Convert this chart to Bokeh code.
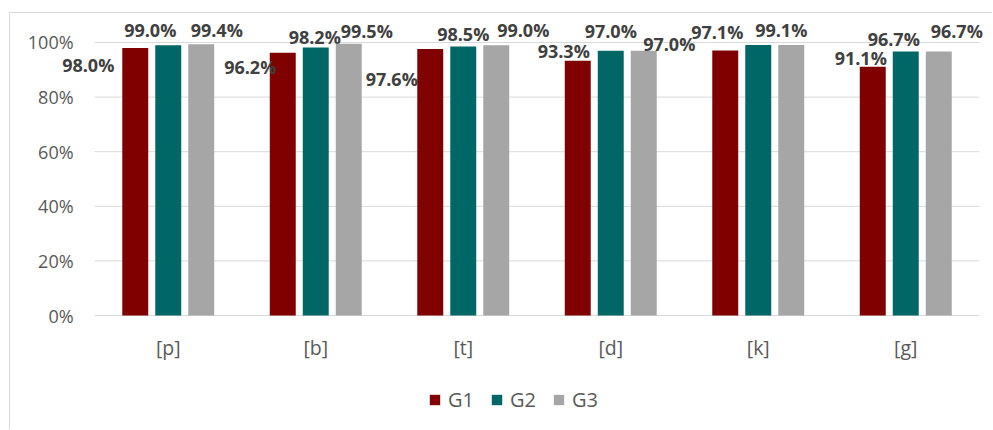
from bokeh.plotting import figure
from bokeh.models import ColumnDataSource, Range1d, Legend, LegendItem
from bokeh.core.properties import value
from bokeh.embed import file_html
from bokeh.resources import INLINE

# ---- data ----
categories = ["[p]", "[b]", "[t]", "[d]", "[k]", "[g]"]
series = ["G1", "G2", "G3"]
g1 = [98.0, 96.2, 97.6, 93.3, 97.1, 91.1]
g2 = [99.0, 98.2, 98.5, 97.0, 99.1, 96.7]
g3 = [99.4, 99.5, 99.0, 97.0, 99.1, 96.7]
y_ticks = [0, 20, 40, 60, 80, 100]
y_tick_labels = ["0%", "20%", "40%", "60%", "80%", "100%"]

# ---- style ----
colors = ["#800000", "#006666", "#A6A6A6"]
offsets = [-0.2237, 0.0, 0.2237]
bar_width = 0.176
# label offsets in screen px relative to bar top (dx right, dy down)
label_dx = [[-47, -32.5, -38.5, -14, -8, -12],
            [-18, -1, 0, 0, 23, -12],
            [15.5, 18, 27, 25.5, 23, 18]]
label_dy = [[17.5, 14.5, 30, -10, -18, -9],
            [-15, -10, -13, -20, -14.5, -13],
            [-14, -13, -15, -7, -14.5, -21]]
hidden = {("[k]", "G3")}
FONT = value("Open Sans")
TXT = "#595959"
GRID = "#D9D9D9"
ytick_x = -0.142      # right edge of y tick labels (category units)
cat_label_y = -11.9   # centre of category labels (value units)

p = figure(x_range=Range1d(-0.5695, 6.0949), y_range=Range1d(-42.12, 110.62),
           width=983, height=417, output_backend="svg", toolbar_location=None,
           min_border=0)
p.margin = (12, 0, 0, 9)
p.styles = {"border-top": "1px solid #D9D9D9", "border-left": "1px solid #D9D9D9"}
p.outline_line_color = None
p.axis.visible = False
p.grid.visible = False

n = len(categories)
centers = [i + 0.5 for i in range(n)]

# gridlines
p.segment(x0=[0] * len(y_ticks), x1=[n] * len(y_ticks), y0=y_ticks, y1=y_ticks,
          line_color=GRID, line_width=1)
# y tick labels
p.text(x=[ytick_x] * len(y_ticks), y=y_ticks, text=y_tick_labels,
       text_align="right", text_baseline="middle", text_font=FONT,
       text_font_size="18px", text_color=TXT)
# category labels
p.text(x=centers, y=[cat_label_y] * n, text=categories,
       text_align="center", text_baseline="middle", text_font=FONT,
       text_font_size="19.5px", text_color=TXT)

renderers = []
for k, (name, vals) in enumerate(zip(series, [g1, g2, g3])):
    src = ColumnDataSource(dict(
        x=[c + offsets[k] for c in centers],
        val=vals,
        text=["" if (c, name) in hidden else f"{v:.1f}%" for c, v in zip(categories, vals)],
        dx=label_dx[k],
        dy=label_dy[k],
    ))
    r = p.vbar(x="x", top="val", bottom=0, width=bar_width,
               source=src, fill_color=colors[k], line_color=None)
    renderers.append(r)
    p.text(x="x", y="val", text="text", x_offset="dx", y_offset="dy", source=src,
           text_align="center", text_baseline="middle",
           text_font=FONT, text_font_size="18px", text_font_style="bold",
           text_color="#404040")

legend = Legend(items=[LegendItem(label=s, renderers=[r]) for s, r in zip(series, renderers)],
                orientation="horizontal", location=(418, 17),
                glyph_width=13, glyph_height=13, label_standoff=7, spacing=16,
                label_text_font="Open Sans", label_text_font_size="20px", label_text_color=TXT,
                border_line_color=None, background_fill_alpha=0, padding=0, margin=0)
p.add_layout(legend)

open("out.html", "w").write(file_html(p, INLINE))
